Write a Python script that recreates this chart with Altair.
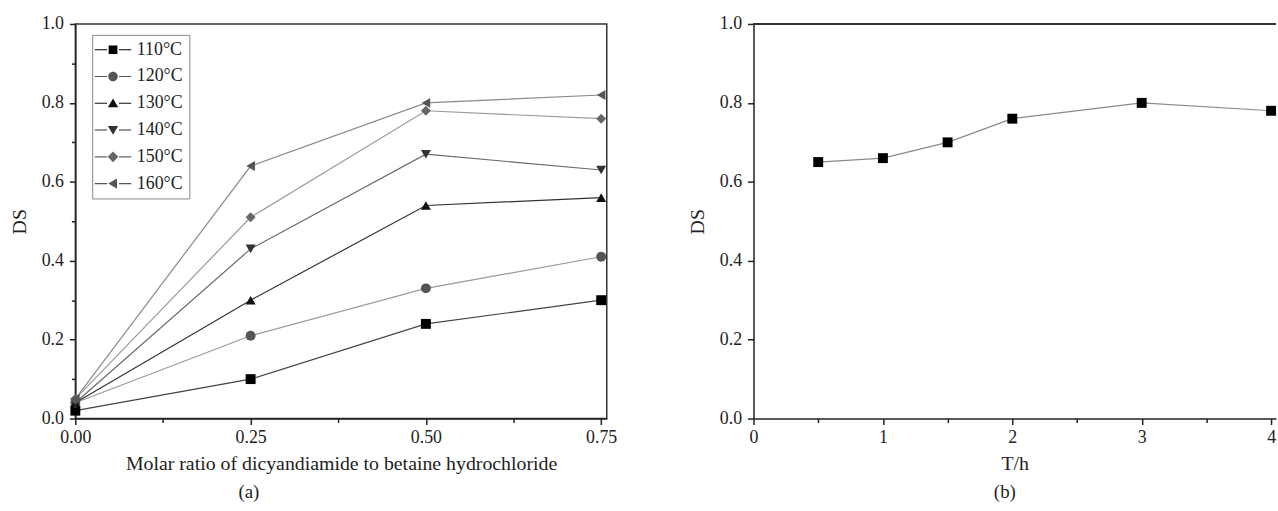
import altair as alt
import pandas as pd

# ---------------- data ----------------
ratio = [0.00, 0.25, 0.50, 0.75]
series = ["110°C", "120°C", "130°C", "140°C", "150°C", "160°C"]
ds_110 = [0.02, 0.10, 0.24, 0.30]
ds_120 = [0.04, 0.21, 0.33, 0.41]
ds_130 = [0.04, 0.30, 0.54, 0.56]
ds_140 = [0.04, 0.43, 0.67, 0.63]
ds_150 = [0.05, 0.51, 0.78, 0.76]
ds_160 = [0.05, 0.64, 0.80, 0.82]

time_h = [0.5, 1.0, 1.5, 2.0, 3.0, 4.0]
ds_time = [0.65, 0.66, 0.70, 0.76, 0.80, 0.78]

# ---------------- styles ----------------
shapes = ["square", "circle", "triangle-up", "triangle-down", "diamond", "triangle-left"]
DASH = "M-4.6,-0.14H-1.5V0.14H-4.6ZM1.5,-0.14H4.6V0.14H1.5Z"
legend_paths = [
    DASH + "M-1.1,-1.1H1.1V1.1H-1.1Z",
    DASH + "M-1.2,0C-1.2,-0.66,-0.66,-1.2,0,-1.2C0.66,-1.2,1.2,-0.66,1.2,0"
           "C1.2,0.66,0.66,1.2,0,1.2C-0.66,1.2,-1.2,0.66,-1.2,0Z",
    DASH + "M0,-1.2L1.3,1H-1.3Z",
    DASH + "M0,1.2L1.3,-1H-1.3Z",
    DASH + "M0,-1.35L1.35,0L0,1.35L-1.35,0Z",
    DASH + "M-1.2,0L1,-1.3V1.3Z",
]
fill_colors = ["#000000", "#555555", "#111111", "#333333", "#666666", "#555555"]
line_colors = ["#444444", "#9a9a9a", "#333333", "#6a6a6a", "#9a9a9a", "#8a8a8a"]
FONT = "Liberation Serif"
INK = "#222222"

rows = []
for name, vals in zip(series, [ds_110, ds_120, ds_130, ds_140, ds_150, ds_160]):
    for r, v in zip(ratio, vals):
        rows.append({"ratio": r, "DS": v, "series": name})
df_a = pd.DataFrame(rows)
df_b = pd.DataFrame({"T": time_h, "DS": ds_time})

y_vals = [round(i * 0.1, 1) for i in range(11)]
major_y = "round(datum.value*10)%2==0"


def y_axis():
    return alt.Axis(
        values=y_vals,
        labelExpr=f"{major_y} ? format(datum.value,'.1f') : ''",
        tickSize={"condition": {"test": major_y, "value": 6}, "value": 4},
        title="DS", grid=False, titlePadding=12, labelPadding=6,
    )


def make_legend():
    return alt.Legend(
        title=None, orient="none", legendX=17, legendY=11,
        strokeColor="#888888", padding=6, rowPadding=9,
        labelFont=FONT, labelFontSize=18, labelColor=INK,
        symbolOffset=6, labelOffset=15,
        symbolStrokeColor="transparent", symbolStrokeWidth=0, symbolSize=64,
    )


# ---------------- panel (a) ----------------
major_xa = "round(datum.value*8)%2==0"
xa = alt.X(
    "ratio:Q",
    scale=alt.Scale(domain=[0, 0.758], nice=False, zero=False),
    axis=alt.Axis(
        values=[0, 0.125, 0.25, 0.375, 0.5, 0.625, 0.75],
        labelExpr=f"{major_xa} ? format(datum.value,'.2f') : ''",
        tickSize={"condition": {"test": major_xa, "value": 6}, "value": 4},
        title="Molar ratio of dicyandiamide to betaine hydrochloride",
        grid=False, titlePadding=7, labelFlush=False,
    ),
)
ya = alt.Y("DS:Q", scale=alt.Scale(domain=[0, 1], nice=False), axis=y_axis())

base_a = alt.Chart(df_a)

line_layers = []
point_layers = []
for name, shp, col, lcol in zip(series, shapes, fill_colors, line_colors):
    sub = base_a.transform_filter(alt.datum.series == name)
    line_layers.append(sub.mark_line(strokeWidth=1.2, color=lcol).encode(x=xa, y=ya))
    point_layers.append(
        sub.mark_point(filled=True, size=100, opacity=1, shape=shp, color=col).encode(x=xa, y=ya)
    )

# legend-only layer (no rows of its own; its scales carry explicit domains)
legend_a = base_a.transform_filter("false").mark_point(filled=True, size=64, opacity=1).encode(
    x=xa, y=ya,
    shape=alt.Shape("series:N", scale=alt.Scale(domain=series, range=legend_paths), legend=make_legend()),
    fill=alt.Fill("series:N", scale=alt.Scale(domain=series, range=fill_colors), legend=make_legend()),
)

panel_a = (
    alt.layer(*line_layers, *point_layers, legend_a)
    .properties(
        width=536, height=398,
        view=alt.ViewBackground(stroke="#333333", strokeWidth=1.5),
        title=alt.TitleParams("(a)", orient="bottom", anchor="middle", dx=-93, offset=10,
                              font=FONT, fontSize=19, fontWeight="normal", color=INK),
    )
)

# ---------------- panel (b) ----------------
major_xb = "round(datum.value*2)%2==0"
xb = alt.X(
    "T:Q",
    scale=alt.Scale(domain=[0, 4.038], nice=False, zero=False),
    axis=alt.Axis(
        values=[0, 0.5, 1, 1.5, 2, 2.5, 3, 3.5, 4],
        labelExpr=f"{major_xb} ? format(datum.value,'d') : ''",
        tickSize={"condition": {"test": major_xb, "value": 6}, "value": 4},
        title="T/h", grid=False, titlePadding=7, labelFlush=False,
    ),
)
yb = alt.Y("DS:Q", scale=alt.Scale(domain=[0, 1], nice=False), axis=y_axis())

base_b = alt.Chart(df_b)
line_b = base_b.mark_line(strokeWidth=1.2, color="#8a8a8a").encode(x=xb, y=yb)
points_b = base_b.mark_point(filled=True, size=100, opacity=1, shape="square", color="#000000").encode(x=xb, y=yb)
top_b = base_b.mark_rule(color="#333333", strokeWidth=1.5).encode(y=alt.datum(1.0))

panel_b = alt.layer(top_b, line_b, points_b).properties(
    width=527, height=398,
    view=alt.ViewBackground(stroke="transparent"),
    title=alt.TitleParams("(b)", orient="bottom", anchor="middle", dx=-10, offset=10,
                          font=FONT, fontSize=19, fontWeight="normal", color=INK),
)

chart = (
    alt.hconcat(panel_a, panel_b, spacing=70)
    .properties(padding={"left": 8, "top": 12, "right": 0, "bottom": 0})
    .configure_axis(
        labelFont=FONT, labelFontSize=18, labelColor=INK,
        titleFont=FONT, titleFontSize=20, titleFontWeight="normal", titleColor=INK,
        domainColor=INK, domainWidth=1.5, tickColor=INK, tickWidth=1.5, labelPadding=4,
    )
    .configure_view(stroke="transparent")
)

chart.save("out.html", embed_options={"renderer": "svg", "actions": False})
